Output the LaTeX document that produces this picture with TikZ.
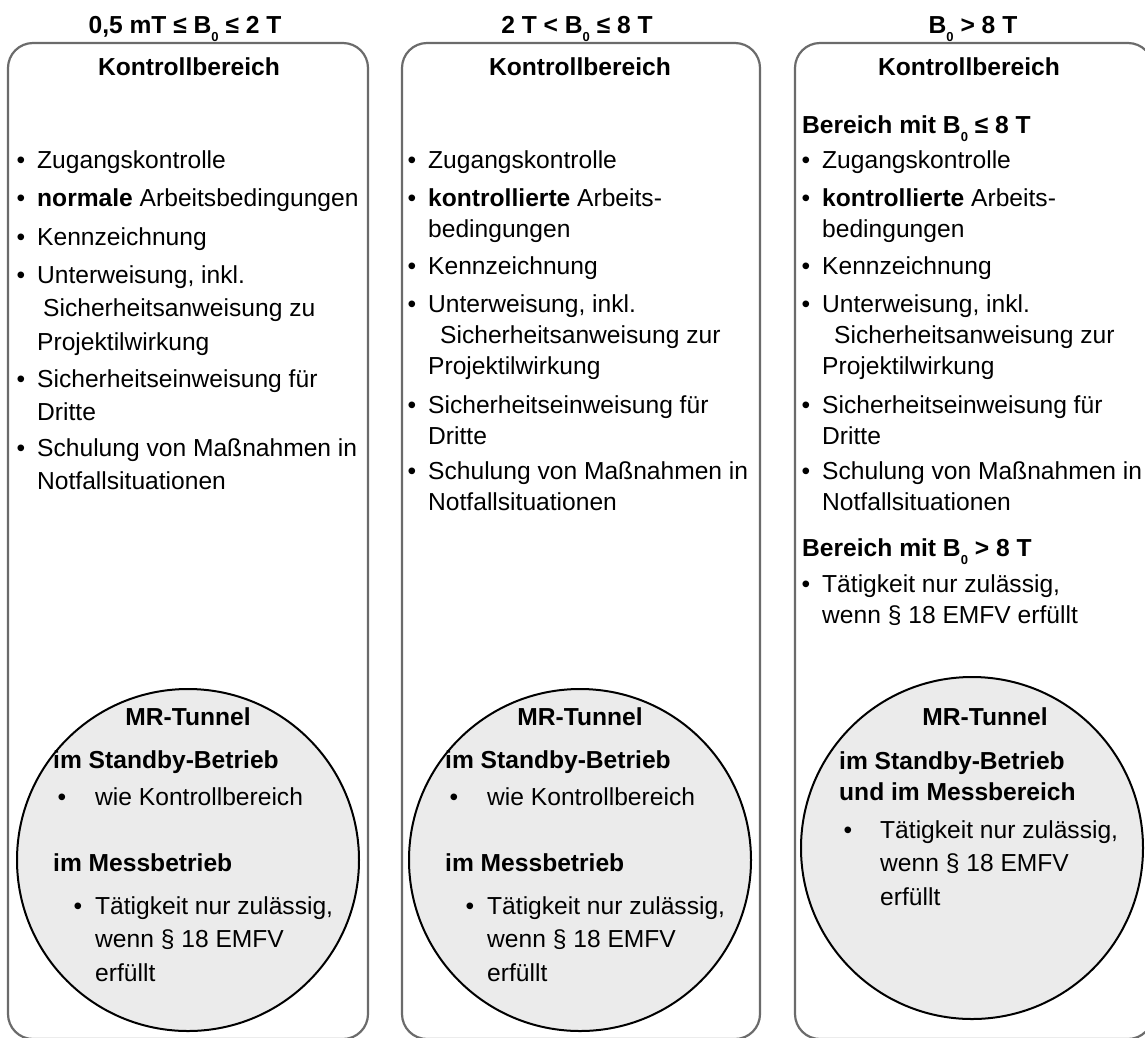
\documentclass[tikz,border=0pt]{standalone}
\usepackage{fontspec}
\setmainfont{Liberation Sans}
\usetikzlibrary{positioning}

\definecolor{framegrey}{HTML}{6B6B6B}
\definecolor{tunnelgrey}{HTML}{EBEBEB}
\newcommand{\txtA}{\fontsize{24.6}{33.5}\selectfont}
\newcommand{\txtB}{\fontsize{24.6}{31}\selectfont}
\newcommand{\bnull}{B\raisebox{-8pt}{\fontsize{13}{13}\selectfont 0}}

\tikzset{
  zone/.style={draw=framegrey, line width=2.2pt, rounded corners=25pt, inner sep=0pt, minimum height=996pt},
  tunnel/.style={circle, draw=black, line width=2pt, fill=tunnelgrey, inner sep=0pt, minimum size=342pt},
  head/.style={anchor=base, inner sep=0pt, font=\txtA\bfseries},
  sub/.style={anchor=base west, align=left, inner sep=0pt, font=\txtB\bfseries},
  dot/.style={anchor=base, inner sep=0pt, font=\txtA},
  entry/.style={anchor=base west, align=left, inner sep=0pt, font=\txtA},
  entryB/.style={entry, font=\txtB},
}

\begin{document}
\begin{tikzpicture}[x=1pt, y=-1pt]
  \useasboundingbox (0,0) rectangle (1145,1037);

  % frames
  \node[zone, minimum width=360pt] (zoneA) at (188,541) {};
  \node[zone, minimum width=358pt] (zoneB) at (581,541) {};
  \node[zone, minimum width=358pt] (zoneC) at (974,541) {};

  % field strength and title
  \node[head] (rangeA) at (185,33) {0,5 mT ≤ \bnull{} ≤ 2 T};
  \node[head] (rangeB) at (577,33) {2 T < \bnull{} ≤ 8 T};
  \node[head] (rangeC) at (973,33) {\bnull{} > 8 T};
  \node[head] (ctrlA) at (189,75) {Kontrollbereich};
  \node[head] (ctrlB) at (580,75) {Kontrollbereich};
  \node[head] (ctrlC) at (969,75) {Kontrollbereich};

  % left column (nodes sit on the baseline of their last line)
  \foreach \y in {168,206,245,283,387,456}
    \node[dot] (dotA\y) at (21,\y) {•};
  \node[entry] (zugangA) at (37,168) {Zugangskontrolle};
  \node[entry] (arbeitA) at (37,206) {\textbf{normale} Arbeitsbedingungen};
  \node[entry] (kennA) at (37,245) {Kennzeichnung};
  \node[entry] (unterA) at (37,350) {Unterweisung, inkl.\\\hspace{6pt}Sicherheitsanweisung zu\\Projektilwirkung};
  \node[entry] (drittA) at (37,420.5) {Sicherheitseinweisung für\\Dritte};
  \node[entry] (notfallA) at (37,489.5) {Schulung von Maßnahmen in\\Notfallsituationen};

  % middle column
  \foreach \y in {168,206,274,312,413,479}
    \node[dot] (dotB\y) at (412,\y) {•};
  \node[entryB] (zugangB) at (428,168) {Zugangskontrolle};
  \node[entryB] (arbeitB) at (428,237) {\textbf{kontrollierte} Arbeits-\\bedingungen};
  \node[entryB] (kennB) at (428,274) {Kennzeichnung};
  \node[entryB] (unterB) at (428,374) {Unterweisung, inkl.\\\hspace{12pt}Sicherheitsanweisung zur\\Projektilwirkung};
  \node[entryB] (drittB) at (428,444) {Sicherheitseinweisung für\\Dritte};
  \node[entryB] (notfallB) at (428,510) {Schulung von Maßnahmen in\\Notfallsituationen};

  % right column
  \node[sub] (lowC) at (802,133) {Bereich mit \bnull{} ≤ 8 T};
  \foreach \y in {168,206,274,312,413,479,592}
    \node[dot] (dotC\y) at (806,\y) {•};
  \node[entryB] (zugangC) at (822,168) {Zugangskontrolle};
  \node[entryB] (arbeitC) at (822,237) {\textbf{kontrollierte} Arbeits-\\bedingungen};
  \node[entryB] (kennC) at (822,274) {Kennzeichnung};
  \node[entryB] (unterC) at (822,374) {Unterweisung, inkl.\\\hspace{12pt}Sicherheitsanweisung zur\\Projektilwirkung};
  \node[entryB] (drittC) at (822,444) {Sicherheitseinweisung für\\Dritte};
  \node[entryB] (notfallC) at (822,510) {Schulung von Maßnahmen in\\Notfallsituationen};
  \node[sub] (highC) at (802,556) {Bereich mit \bnull{} > 8 T};
  \node[entryB] (emfvC) at (822,623) {Tätigkeit nur zulässig,\\wenn § 18 EMFV erfüllt};

  % MR tunnels
  \node[tunnel] (tunnelA) at (188,860) {};
  \node[tunnel] (tunnelB) at (580,860) {};
  \node[tunnel] (tunnelC) at (972,848) {};

  \node[head] (mrA) at (188,725) {MR-Tunnel};
  \node[sub] (standbyA) at (53,768) {im Standby-Betrieb};
  \node[dot] (wdotA) at (62,805) {•};
  \node[entry] (wieA) at (95,805) {wie Kontrollbereich};
  \node[sub] (messA) at (53,871) {im Messbetrieb};
  \node[dot] (tdotA) at (78,914) {•};
  \node[entry] (taetA) at (95,981) {Tätigkeit nur zulässig,\\wenn § 18 EMFV\\erfüllt};

  \node[head] (mrB) at (580,725) {MR-Tunnel};
  \node[sub] (standbyB) at (445,768) {im Standby-Betrieb};
  \node[dot] (wdotB) at (454,805) {•};
  \node[entry] (wieB) at (487,805) {wie Kontrollbereich};
  \node[sub] (messB) at (445,871) {im Messbetrieb};
  \node[dot] (tdotB) at (470,914) {•};
  \node[entry] (taetB) at (487,981) {Tätigkeit nur zulässig,\\wenn § 18 EMFV\\erfüllt};

  \node[head] (mrC) at (985,725) {MR-Tunnel};
  \node[sub] (standbyC) at (839,800) {im Standby-Betrieb\\und im Messbereich};
  \node[dot] (tdotC) at (848,838) {•};
  \node[entry] (taetC) at (880,905) {Tätigkeit nur zulässig,\\wenn § 18 EMFV\\erfüllt};
\end{tikzpicture}
\end{document}
